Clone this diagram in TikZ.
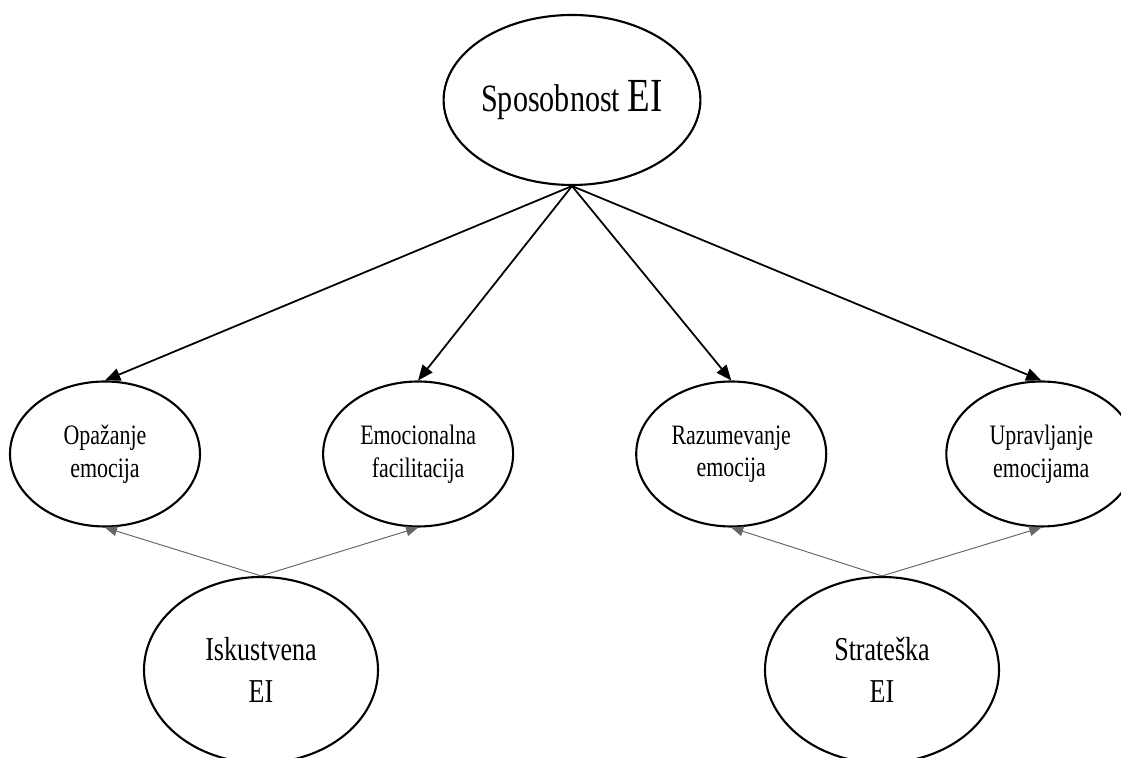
\documentclass[tikz,border=0pt]{standalone}
\usepackage{fontspec}
\setmainfont{Liberation Serif}[FakeStretch=0.78]
\usetikzlibrary{bayesnet,shapes.geometric,positioning}

\tikzset{
  ability/.style={ellipse, draw=black, line width=1.2pt, fill=white, inner sep=0pt,
    minimum width=4.8cm, minimum height=3.4cm, font=\fontsize{22}{26}\selectfont},
  branch/.style={ellipse, draw=black, line width=1.2pt, fill=white, inner sep=0pt,
    minimum width=3.8cm, minimum height=2.9cm, align=center,
    font=\fontsize{16}{18.5}\selectfont},
  area/.style={ellipse, draw=black, line width=1.2pt, fill=white, inner sep=0pt,
    minimum width=4.68cm, minimum height=3.72cm, align=center,
    font=\fontsize{19}{24}\selectfont},
}

\begin{document}
\begin{tikzpicture}
	\useasboundingbox (0,0) rectangle (22.42,15.16);

	\node[ability] (sposobnost) at (11.44,13.16) {Sposobnost {\fontsize{27}{30}\selectfont EI}};

	\node[branch] (opazanje) at (2.1,6.08) {Opažanje\\emocija};
	\node[branch, right=2.42cm of opazanje] (facilitacija) {Emocionalna\\facilitacija};
	\node[branch, right=2.42cm of facilitacija] (razumevanje) {Razumevanje\\emocija};
	\node[branch, right=2.36cm of razumevanje] (upravljanje) {Upravljanje\\emocijama};

	\node[area] (iskustvena) at (5.22,1.76) {Iskustvena\\EI};
	\node[area] (strateska) at (17.64,1.76) {Strateška\\EI};

	\edge[line width=1pt] {sposobnost.south} {opazanje.north,facilitacija.north,razumevanje.north,upravljanje.north} ; %
	\edge[draw=black!60, line width=0.55pt] {iskustvena.north} {opazanje.south,facilitacija.south} ; %
	\edge[draw=black!60, line width=0.55pt] {strateska.north} {razumevanje.south,upravljanje.south} ; %

\end{tikzpicture}
\end{document}
